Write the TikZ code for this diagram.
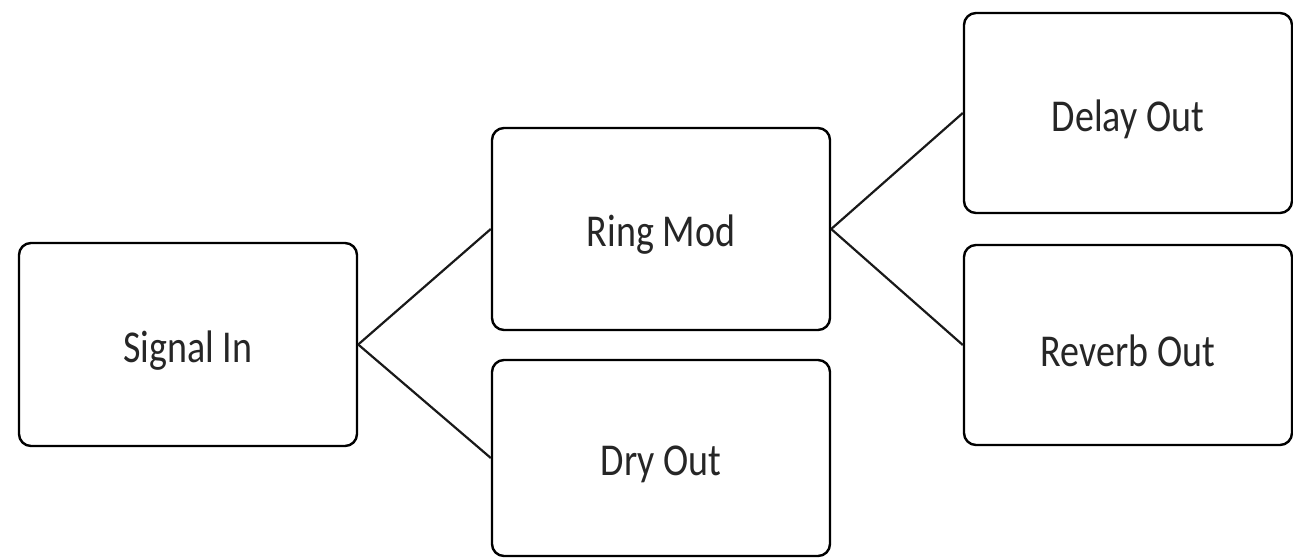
\documentclass[tikz,border=0pt]{standalone}
\usepackage{fontspec}
\setmainfont{Carlito}
\usepackage{graphicx}
\tikzset{
  blk/.style={draw=black, line width=2.4pt, rounded corners=12pt, fill=white,
    inner sep=0pt, font=\fontsize{38}{44}\selectfont, text=black!85},
  link/.style={draw=black!90, line width=2.2pt}
}
\newcommand{\lbl}[1]{\raisebox{-6pt}[\height][\depth]{\scalebox{1}[1.2]{#1}}}
\begin{document}
\begin{tikzpicture}[x=1pt,y=-1pt]
\useasboundingbox (0,0) rectangle (1293,559);
\node[blk, minimum width=338pt, minimum height=203pt] (sig) at (188,344.5) {\lbl{Signal In}};
\node[blk, minimum width=338pt, minimum height=202pt] (ring) at (661,229) {\lbl{Ring Mod}};
\node[blk, minimum width=338pt, minimum height=196pt] (dry) at (661,458) {\lbl{Dry Out}};
\node[blk, minimum width=328pt, minimum height=200pt] (delay) at (1128,113) {\lbl{Delay Out}};
\node[blk, minimum width=328pt, minimum height=200pt] (rev) at (1128,345) {\lbl{Reverb Out}};
\draw[link] (sig.east) -- (ring.west);
\draw[link] (sig.east) -- (dry.west);
\draw[link] (ring.east) -- (delay.west);
\draw[link] (ring.east) -- (rev.west);
\end{tikzpicture}
\end{document}
